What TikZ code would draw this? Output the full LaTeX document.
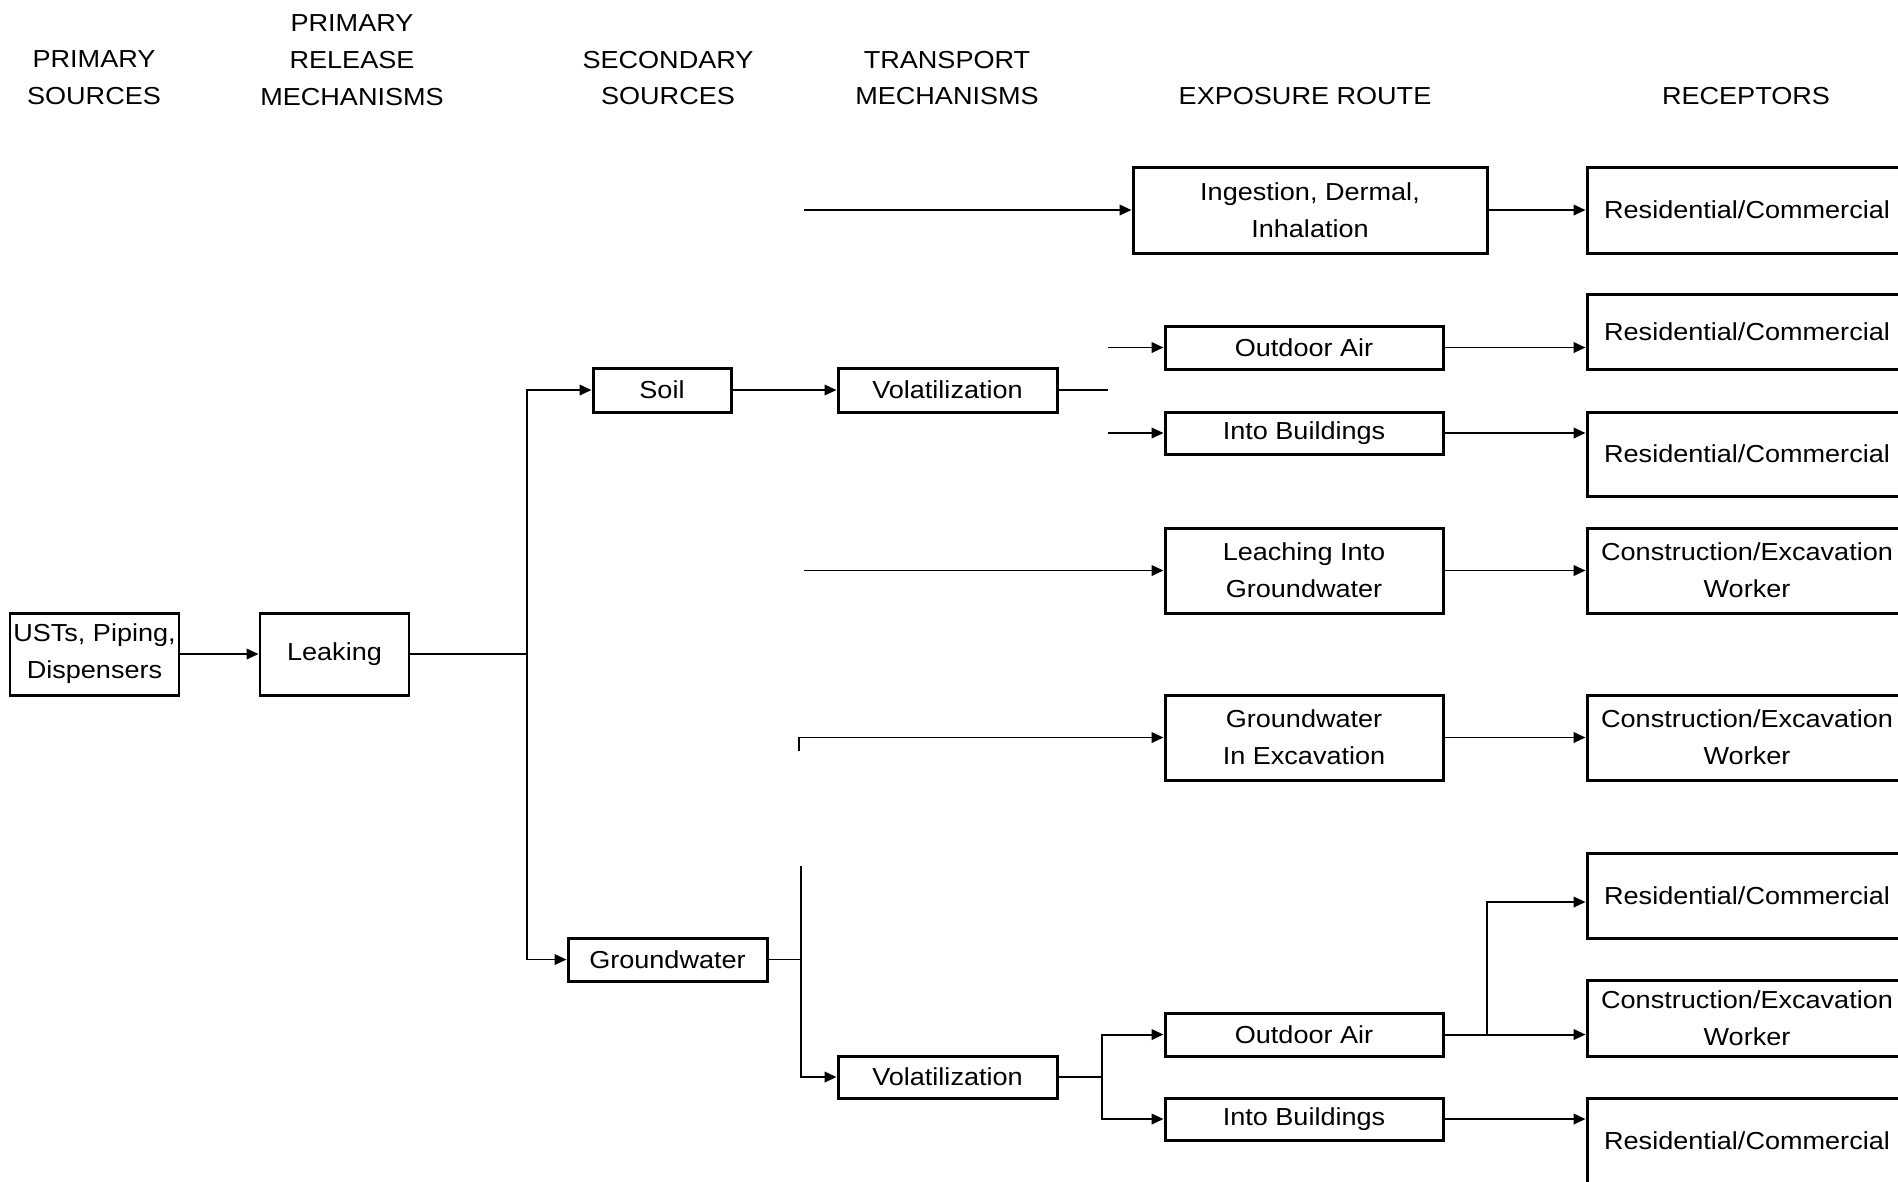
\documentclass[tikz,border=0pt]{standalone}
\usepackage{fontspec}
\setmainfont{Liberation Sans}[FakeStretch=1.1]
\usetikzlibrary{arrows.meta}

\newcommand{\lab}{\fontsize{7}{10.5}\selectfont}

\begin{document}
\begin{tikzpicture}[x=0.1mm, y=-0.1mm, >={Triangle[length=3.4pt,width=3pt]},
  box/.style={draw, line width=0.85pt, align=center, inner sep=0pt, font=\lab},
  route/.style={box, minimum width=27.8mm},
  recep/.style={box, minimum width=32mm, minimum height=8.5mm},
  link/.style={line width=0.55pt},
  head/.style={align=center, font=\lab}]
  \useasboundingbox (0,0) rectangle (1898,1181);

  % column headings
  \node[head] (hsrc) at (94,78) {PRIMARY\\SOURCES};
  \node[head] (hrel) at (352,60) {PRIMARY\\RELEASE\\MECHANISMS};
  \node[head] (hsec) at (668,78) {SECONDARY\\SOURCES};
  \node[head] (htra) at (947,78) {TRANSPORT\\MECHANISMS};
  \node[head] (hexp) at (1305,96) {EXPOSURE ROUTE};
  \node[head] (hrec) at (1746,96) {RECEPTORS};

  % sources and release
  \node[box, minimum width=16.9mm, minimum height=8.2mm] (usts) at (94.5,654) {USTs, Piping,\\Dispensers};
  \node[box, minimum width=14.9mm, minimum height=8.2mm] (leak) at (334.5,654) {Leaking};
  \node[box, minimum width=13.8mm, minimum height=4.4mm] (soil) at (662,390) {Soil};
  \node[box, minimum width=19.9mm, minimum height=4.3mm] (gw) at (667.5,959.5) {Groundwater};
  \node[box, minimum width=21.9mm, minimum height=4.4mm] (vol1) at (947.5,390) {Volatilization};
  \node[box, minimum width=21.9mm, minimum height=4.2mm] (vol2) at (947.5,1077) {Volatilization};

  % exposure routes
  \node[box, minimum width=35.4mm, minimum height=8.6mm] (ingest) at (1310,210) {Ingestion, Dermal,\\Inhalation};
  \node[route, minimum height=4.3mm] (oair1) at (1304,347.5) {Outdoor Air};
  \node[route, minimum height=4.2mm] (inb1) at (1304,433) {Into Buildings};
  \node[route, minimum height=8.5mm] (leach) at (1304,570.5) {Leaching Into\\Groundwater};
  \node[route, minimum height=8.5mm] (gwex) at (1304,737.5) {Groundwater\\In Excavation};
  \node[route, minimum height=4.3mm] (oair2) at (1304,1034.5) {Outdoor Air};
  \node[route, minimum height=4.2mm] (inb2) at (1304,1119) {Into Buildings};

  % receptors
  \node[recep, minimum height=8.6mm] (r1) at (1747,210) {Residential/Commercial};
  \node[recep, minimum height=7.5mm] (r2) at (1747,331.5) {Residential/Commercial};
  \node[recep, minimum height=8.4mm] (r3) at (1747,454) {Residential/Commercial};
  \node[recep] (r4) at (1747,570.5) {Construction/Excavation\\Worker};
  \node[recep] (r5) at (1747,737.5) {Construction/Excavation\\Worker};
  \node[recep] (r6) at (1747,895.5) {Residential/Commercial};
  \node[recep, minimum height=7.6mm] (r7) at (1747,1018) {Construction/Excavation\\Worker};
  \node[recep] (r8) at (1747,1140.5) {Residential/Commercial};

  % free ends of the connectors
  \coordinate (trunk) at (527,654);
  \coordinate (vstub) at (1108,390);
  \coordinate (oin) at (1108,347.5);
  \coordinate (bin) at (1108,433);
  \coordinate (iin) at (804,210);
  \coordinate (lin) at (804,570.5);
  \coordinate (xin) at (799,737.5);
  \coordinate (xtick) at (799,751);
  \coordinate (gtop) at (801,866);
  \coordinate (vfork) at (1102,1077);
  \coordinate (rfork) at (1487,1034.5);
  \coordinate (rsplit) at (1487,902);

  % connectors
  \draw[link,->] (usts) -- (leak);
  \draw[link] (leak) -- (trunk);
  \draw[link,->] (trunk) |- (soil.west);
  \draw[link,->] (trunk) |- (gw.west);
  \draw[link,->] (soil) -- (vol1);
  \draw[link] (vol1) -- (vstub);
  \draw[link,->] (oin) -- (oair1);
  \draw[link,->] (bin) -- (inb1);
  \draw[link,->] (iin) -- (ingest);
  \draw[link,->] (lin) -- (leach);
  \draw[link,->] (xtick) -- (xin) -- (gwex);
  \draw[link] (gw.east) -- (gw.east -| gtop);
  \draw[link,->] (gtop) |- (vol2.west);
  \draw[link] (vol2) -- (vfork);
  \draw[link,->] (vfork) |- (oair2.west);
  \draw[link,->] (vfork) |- (inb2.west);

  \draw[link,->] (ingest) -- (r1);
  \draw[link,->] (oair1.east) -- (oair1.east -| r2.west);
  \draw[link,->] (inb1.east) -- (inb1.east -| r3.west);
  \draw[link,->] (leach) -- (r4);
  \draw[link,->] (gwex) -- (r5);
  \draw[link,->] (oair2.east) -- (oair2.east -| r7.west);
  \draw[link,->] (rfork) -- (rsplit) -- (rsplit -| r6.west);
  \draw[link,->] (inb2.east) -- (inb2.east -| r8.west);
\end{tikzpicture}
\end{document}
